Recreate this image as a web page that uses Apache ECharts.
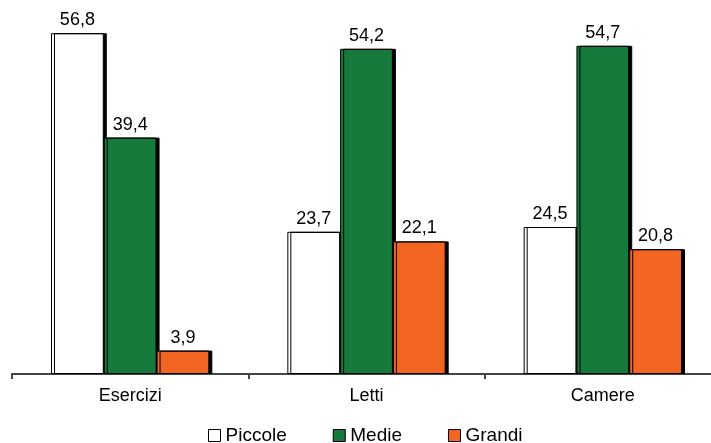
<!DOCTYPE html>
<html>
<head>
<meta charset="utf-8">
<script src="https://cdn.jsdelivr.net/npm/echarts@6/dist/echarts.min.js"></script>
<style>
  html, body { margin: 0; padding: 0; background: #fff; }
  #chart { width: 711px; height: 443px; }
</style>
</head>
<body>
<div id="chart"></div>
<script>
// Categories and series values (percentages)
const categories = ['Esercizi', 'Letti', 'Camere'];
const piccole = [56.8, 23.7, 24.5];
const medie = [39.4, 54.2, 54.7];
const grandi = [3.9, 22.1, 20.8];

const FONT = 'Liberation Sans, Arial, sans-serif';
const fmt = p => p.value.toFixed(1).replace('.', ',');

const barStyle = color => ({
  color: color,
  borderColor: '#000',
  borderWidth: 1,
  shadowColor: '#000',
  shadowBlur: 0,
  shadowOffsetX: 3,
  shadowOffsetY: 0
});

const labelStyle = {
  show: true,
  position: 'top',
  distance: 4,
  formatter: fmt,
  color: '#000',
  fontFamily: FONT,
  fontSize: 18
};

const makeSeries = (name, data, color) => ({
  name: name,
  type: 'bar',
  data: data,
  barGap: '0%',
  barCategoryGap: '33%',
  itemStyle: barStyle(color),
  label: labelStyle,
  emphasis: { disabled: true }
});

const legendIcon = { borderColor: '#000', borderWidth: 1, shadowBlur: 0, shadowOffsetX: 0 };

const chart = echarts.init(document.getElementById('chart'));
chart.setOption({
  animation: false,
  backgroundColor: '#fff',
  grid: { left: 12, top: 14, width: 709, height: 360, containLabel: false, outerBoundsMode: 'none' },
  legend: {
    top: 421,
    left: 203,
    itemWidth: 12,
    itemHeight: 12,
    itemGap: 46,
    icon: 'rect',
    textStyle: { color: '#000', fontFamily: FONT, fontSize: 19, padding: [0, 0, 0, 0] },
    data: [
      { name: 'Piccole', itemStyle: legendIcon },
      { name: 'Medie', itemStyle: legendIcon },
      { name: 'Grandi', itemStyle: legendIcon }
    ]
  },
  xAxis: {
    type: 'category',
    data: categories,
    axisLine: { lineStyle: { color: '#444', width: 2 } },
    axisTick: { show: true, length: 5, lineStyle: { color: '#444', width: 2 } },
    axisLabel: { color: '#000', fontFamily: FONT, fontSize: 18, margin: 13 }
  },
  yAxis: {
    type: 'value',
    min: 0,
    max: 60,
    show: false,
    splitLine: { show: false }
  },
  series: [
    makeSeries('Piccole', piccole, '#ffffff'),
    makeSeries('Medie', medie, '#157a3c'),
    makeSeries('Grandi', grandi, '#f26522')
  ]
});
</script>
</body>
</html>
